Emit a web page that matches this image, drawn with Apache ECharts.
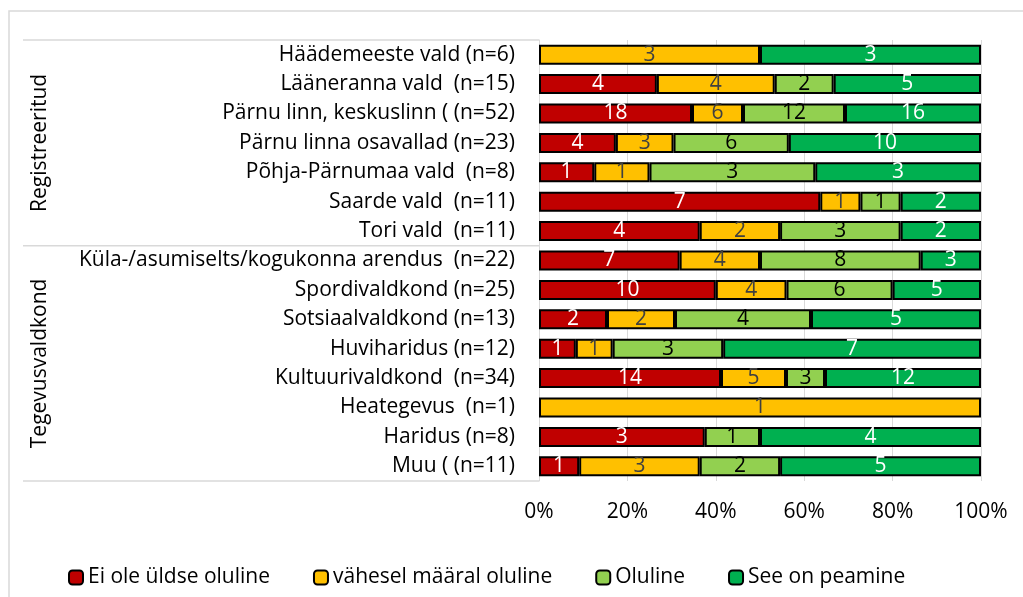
<!DOCTYPE html>
<html>
<head>
<meta charset="utf-8">
<script src="https://cdn.jsdelivr.net/npm/echarts@6/dist/echarts.min.js"></script>
<style>
  html, body { margin: 0; padding: 0; background: #fff; }
  #chart { width: 1023px; height: 597px; }
</style>
</head>
<body>
<div id="chart"></div>
<script>
// categories, top to bottom
const categories = [
  'Häädemeeste vald (n=6)',
  'Lääneranna vald  (n=15)',
  'Pärnu linn, keskuslinn ( (n=52)',
  'Pärnu linna osavallad (n=23)',
  'Põhja-Pärnumaa vald  (n=8)',
  'Saarde vald  (n=11)',
  'Tori vald  (n=11)',
  'Küla-/asumiselts/kogukonna arendus  (n=22)',
  'Spordivaldkond (n=25)',
  'Sotsiaalvaldkond (n=13)',
  'Huviharidus (n=12)',
  'Kultuurivaldkond  (n=34)',
  'Heategevus  (n=1)',
  'Haridus (n=8)',
  'Muu ( (n=11)'
]
const groups = ['Registreeritud', 'Tegevusvaldkond']
const groupSize = [7, 8]

const seriesNames = ['Ei ole üldse oluline', 'vähesel määral oluline', 'Oluline', 'See on peamine']
// counts per category
const eiOle = [0, 4, 18, 4, 1, 7, 4, 7, 10, 2, 1, 14, 0, 3, 1]
const vahesel = [3, 4, 6, 3, 1, 1, 2, 4, 4, 2, 1, 5, 1, 0, 3]
const oluline = [0, 2, 12, 6, 3, 1, 3, 8, 6, 4, 3, 3, 0, 1, 2]
const peamine = [3, 5, 16, 10, 3, 2, 2, 3, 5, 5, 7, 12, 0, 4, 5]

const xTicks = [0, 20, 40, 60, 80, 100]

const colors = ['#C00000', '#FFC000', '#92D050', '#00B050']
const labelColors = ['#ffffff', '#404040', '#000000', '#ffffff']
const font = '"Open Sans", "Noto Sans", sans-serif'

const counts = [eiOle, vahesel, oluline, peamine]
const totals = categories.map((c, i) => counts.reduce((s, arr) => s + arr[i], 0))

const series = counts.map((arr, si) => ({
  name: seriesNames[si],
  type: 'bar',
  stack: 'total',
  barWidth: 20,
  itemStyle: { color: colors[si], borderColor: '#000', borderWidth: 2 },
  label: {
    show: true,
    position: 'inside',
    color: labelColors[si],
    fontFamily: font,
    fontSize: 21,
    formatter: (p) => (p.data.count ? String(p.data.count) : '')
  },
  data: arr.map((v, i) => {
    const d = { value: (v / totals[i]) * 100, count: v }
    if (!v) d.itemStyle = { borderWidth: 0 }
    return d
  })
}))

const chart = echarts.init(document.getElementById('chart'))
chart.setOption({
  animation: false,
  backgroundColor: '#fff',
  grid: { left: 539, right: 42, top: 40, bottom: 116 },
  legend: {
    left: 63,
    top: 562,
    itemWidth: 14,
    itemHeight: 14,
    itemGap: 43,
    textStyle: { fontFamily: font, fontSize: 21, color: '#000' },
    data: seriesNames
  },
  xAxis: {
    type: 'value',
    min: xTicks[0],
    max: xTicks[xTicks.length - 1],
    interval: 20,
    axisLine: { show: false },
    axisTick: { show: false },
    splitLine: { lineStyle: { color: '#d9d9d9', width: 1 } },
    axisLabel: {
      margin: 21,
      fontFamily: font,
      fontSize: 21,
      color: '#000',
      formatter: '{value}%'
    }
  },
  yAxis: {
    type: 'category',
    inverse: true,
    data: categories,
    axisLine: { show: true, lineStyle: { color: '#d9d9d9', width: 1 } },
    axisTick: { show: false },
    axisLabel: { margin: 24, fontFamily: font, fontSize: 21, color: '#000' }
  },
  series: series
})

// group separators and group titles, positioned from the category axis
function drawGroups() {
  const c0 = chart.convertToPixel({ yAxisIndex: 0 }, 0)
  const c1 = chart.convertToPixel({ yAxisIndex: 0 }, 1)
  const band = c1 - c0
  const x0 = chart.convertToPixel({ xAxisIndex: 0 }, 0)
  const elements = [
    {
      type: 'rect',
      shape: { x: 9, y: 11, width: 1100, height: 700 },
      style: { fill: null, stroke: '#d9d9d9', lineWidth: 1.5 },
      silent: true
    }
  ]
  let start = 0
  const edges = [c0 - band / 2]
  groups.forEach((g, gi) => {
    const end = start + groupSize[gi] - 1
    const top = chart.convertToPixel({ yAxisIndex: 0 }, start) - band / 2
    const bottom = chart.convertToPixel({ yAxisIndex: 0 }, end) + band / 2
    edges.push(bottom)
    elements.push({
      type: 'text',
      x: 40,
      y: (top + bottom) / 2,
      rotation: Math.PI / 2,
      style: {
        text: g,
        fontFamily: font,
        fontSize: 21,
        fill: '#000',
        align: 'center',
        verticalAlign: 'middle'
      },
      silent: true
    })
    start = end + 1
  })
  edges.forEach((y) => {
    elements.push({
      type: 'line',
      shape: { x1: 23, y1: y, x2: x0, y2: y },
      style: { stroke: '#d9d9d9', lineWidth: 1.5 },
      silent: true
    })
  })
  chart.setOption({ graphic: { elements: elements } })
}
drawGroups()
</script>
</body>
</html>
